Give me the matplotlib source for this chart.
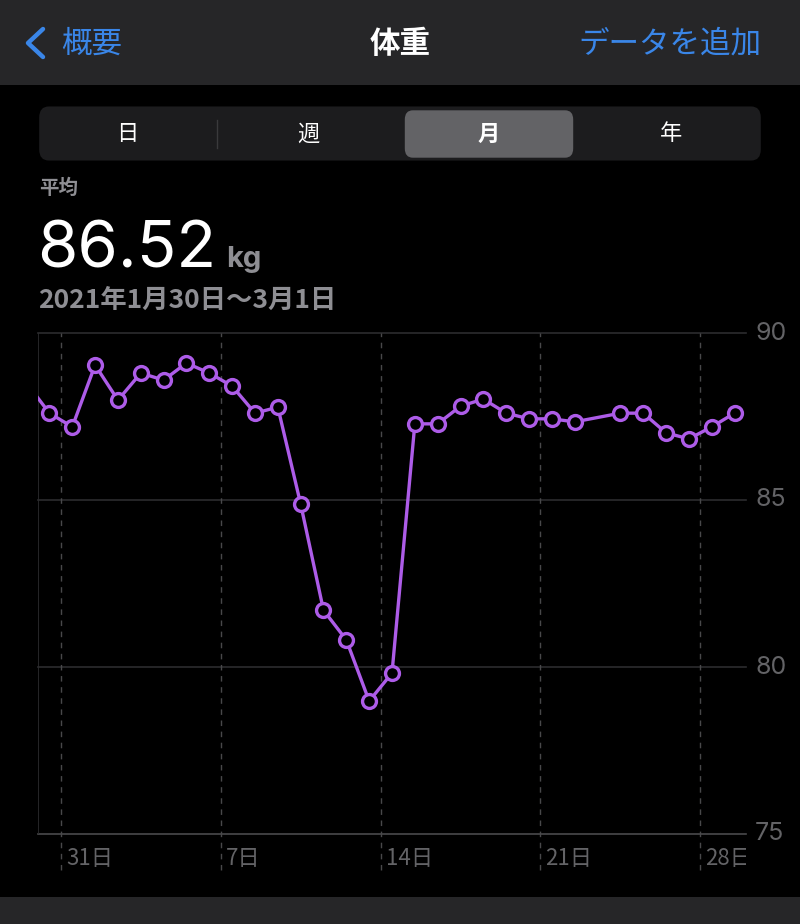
import numpy as np
import matplotlib.pyplot as plt
import matplotlib.dates as mdates
from matplotlib.patches import FancyBboxPatch, Rectangle

plt.rcParams['font.family'] = ['Noto Sans CJK JP', 'DejaVu Sans']

# daily weight (kg), Jan 29 .. Mar 1 2021; Feb 23 has no entry
dates = np.array(['2021-01-29', '2021-01-30', '2021-01-31', '2021-02-01', '2021-02-02',
                  '2021-02-03', '2021-02-04', '2021-02-05', '2021-02-06', '2021-02-07',
                  '2021-02-08', '2021-02-09', '2021-02-10', '2021-02-11', '2021-02-12',
                  '2021-02-13', '2021-02-14', '2021-02-15', '2021-02-16', '2021-02-17',
                  '2021-02-18', '2021-02-19', '2021-02-20', '2021-02-21', '2021-02-22',
                  '2021-02-24', '2021-02-25', '2021-02-26', '2021-02-27', '2021-02-28',
                  '2021-03-01'], dtype='datetime64[D]')
weights = [88.5, 87.60, 87.19, 89.04, 87.99, 88.80, 88.59, 89.10, 88.80, 88.41,
           87.60, 87.78, 84.88, 81.70, 80.81, 78.98, 79.82, 87.28, 87.28, 87.81,
           88.02, 87.60, 87.43, 87.43, 87.34, 87.60, 87.60, 87.01, 86.83, 87.19,
           87.60]

week_ticks = np.array(['2021-01-31', '2021-02-07', '2021-02-14', '2021-02-21',
                       '2021-02-28'], dtype='datetime64[D]')
week_labels = ['31日', '7日', '14日', '21日', '28日']
y_ticks = [75, 80, 85, 90]
segments = ['日', '週', '月', '年']

BG = '#000000'
BAR = '#262628'
BLUE = '#3a86e8'
PURPLE = '#ad5ce8'
GRAY = '#8e8e93'
DIM = '#636366'

fig = plt.figure(figsize=(8, 9.24), dpi=100, facecolor=BG)
W, H = 800, 924


def fx(px):
    return px / W


def fy(py):
    return 1 - py / H


# top navigation bar
fig.patches.append(Rectangle((0, fy(85)), 1, 85 / H, transform=fig.transFigure,
                             facecolor=BAR, edgecolor='none'))
fig.patches.append(Rectangle((0, 0), 1, 27 / H, transform=fig.transFigure,
                             facecolor=BAR, edgecolor='none'))
fig.lines.append(plt.Line2D([fx(43), fx(28), fx(43)], [fy(29), fy(43), fy(57)],
                            transform=fig.transFigure, color=BLUE, lw=3.2,
                            solid_capstyle='round', solid_joinstyle='round'))
fig.text(fx(61), fy(44), '概要', color=BLUE, fontsize=22, va='center', ha='left')
fig.text(fx(400), fy(44), '体重', color='white', fontsize=22, va='center',
         ha='center', fontweight='bold')
fig.text(fx(761), fy(44), 'データを追加', color=BLUE, fontsize=22, va='center',
         ha='right')

# segmented control
fig.patches.append(FancyBboxPatch((fx(44), fy(155)), fx(712), 43 / H,
                                  boxstyle='round,pad=0.006,rounding_size=0.012',
                                  transform=fig.transFigure, facecolor='#1c1c1e',
                                  edgecolor='none'))
fig.patches.append(FancyBboxPatch((fx(408), fy(154)), fx(162), 40 / H,
                                  boxstyle='round,pad=0.004,rounding_size=0.01',
                                  transform=fig.transFigure, facecolor='#636366',
                                  edgecolor='none'))
fig.lines.append(plt.Line2D([fx(217), fx(217)], [fy(120), fy(148)],
                            transform=fig.transFigure, color='#3a3a3c', lw=1))
for lab, x in zip(segments, [127, 308, 489, 671]):
    fig.text(fx(x), fy(134), lab, color='white', fontsize=16, ha='center',
             va='center', fontweight='bold' if lab == '月' else 'normal')

# summary text
fig.text(fx(39), fy(188), '平均', color=GRAY, fontsize=14, va='center',
         ha='left', fontweight='bold')
fig.text(fx(37), fy(267), '86.52', color='white', fontsize=47, va='baseline',
         ha='left', family=['Inter', 'DejaVu Sans'])
fig.text(fx(226), fy(267), 'kg', color=GRAY, fontsize=21, va='baseline',
         ha='left', fontweight='bold', family=['Inter', 'DejaVu Sans'])
fig.text(fx(38), fy(300), '2021年1月30日〜3月1日', color=GRAY, fontsize=19,
         va='center', ha='left', fontweight='bold')

# chart
ax = fig.add_axes([fx(38), fy(834), fx(708), 501 / H], facecolor=BG)
x = mdates.date2num(dates) + 0.5  # readings plotted at noon
ax.plot(x, weights, color=PURPLE, lw=2.4, marker='o', markersize=10,
        markerfacecolor=BG, markeredgecolor=PURPLE, markeredgewidth=2.4,
        solid_joinstyle='round', zorder=5)

start = np.datetime64('2021-01-30')
end = np.datetime64('2021-03-02')
ax.set_xlim(mdates.date2num(start), mdates.date2num(end))
ax.set_ylim(75, 90)

for s in ax.spines.values():
    s.set_visible(False)
ax.set_xticks([])
ax.set_yticks([])

for v in y_ticks:
    ax.axhline(v, color='#4a4a4c' if v == 75 else '#2c2c2e', lw=1.2, zorder=1,
               clip_on=False)
    ax.text(1.013, v, str(v), transform=ax.get_yaxis_transform(), color=DIM,
            fontsize=18, va='center', ha='left', family=['Inter', 'DejaVu Sans'])
ax.axvline(mdates.date2num(start), color='#2c2c2e', lw=1.2, zorder=1)

xt = ax.get_xaxis_transform()
clip = Rectangle((0, 0), fx(746), 1, transform=fig.transFigure)
for d, lab in zip(week_ticks, week_labels):
    xv = mdates.date2num(d)
    ax.plot([xv, xv], [-0.072, 1], transform=xt, color='#48484a', lw=1,
            ls=(0, (4, 4)), clip_on=False, zorder=1)
    t = ax.text(xv + 0.22, -0.048, lab, transform=xt, color=DIM, fontsize=16,
                va='center', ha='left', clip_on=True)
    t.set_clip_path(clip)

fig.savefig('out.png', dpi=100, facecolor=BG)
